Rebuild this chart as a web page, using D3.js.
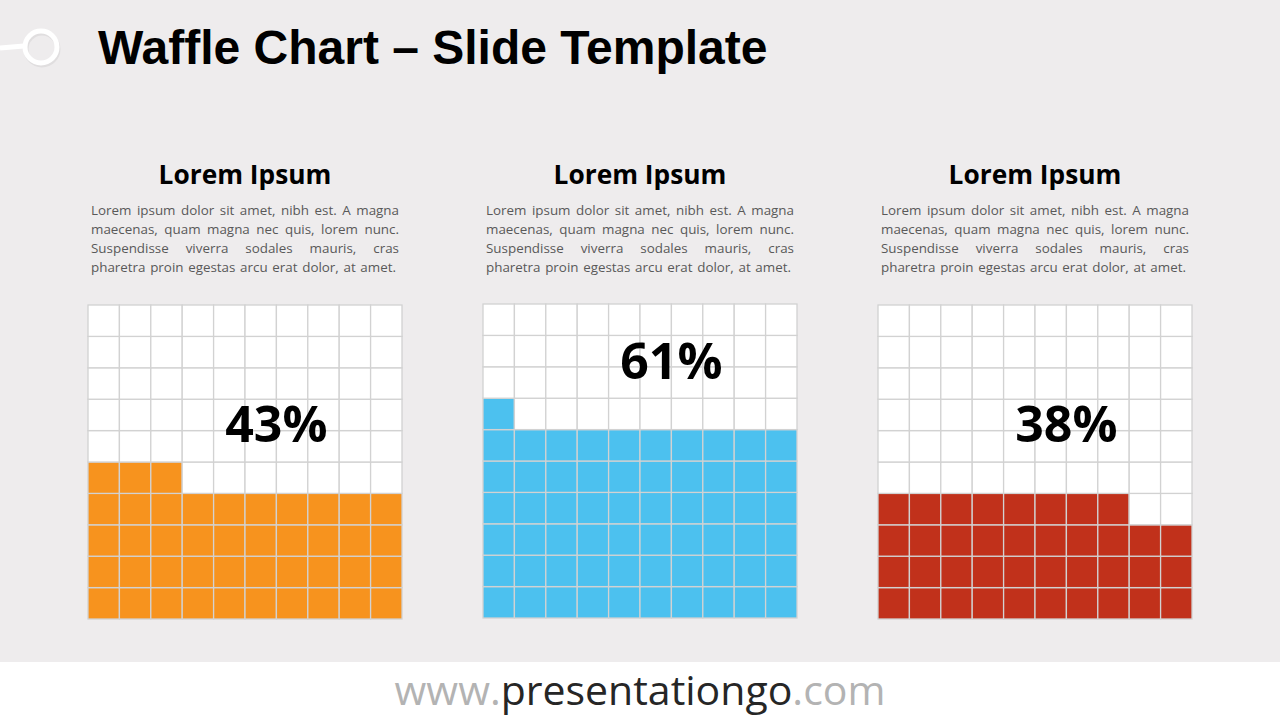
<!DOCTYPE html>
<html><head><meta charset="utf-8">
<script src="https://cdn.jsdelivr.net/npm/d3@7"></script>
<style>html,body{margin:0;padding:0;background:#fff;}svg{display:block;}</style>
</head><body>
<svg id="chart" width="1280" height="720"></svg>
<script>
// ---- data ----
const titles = ["Lorem Ipsum", "Lorem Ipsum", "Lorem Ipsum"];
const percents = [43, 61, 38];
const bodyLines = [
  "Lorem ipsum dolor sit amet, nibh est. A magna",
  "maecenas, quam magna nec quis, lorem nunc.",
  "Suspendisse viverra sodales mauris, cras",
  "pharetra proin egestas arcu erat dolor, at amet."
];
const gridCols = d3.range(10);
const gridRows = d3.range(10);

// ---- style / layout ----
const fills = ["#f7931e", "#4cc1ef", "#c1311b"];
const panelCenters = [245, 640, 1035];
const gridTops = [305, 304, 305];
const labelPos = [{dx: 0.6, y: 423}, {dx: 0.6, y: 360}, {dx: 0.6, y: 423}];
const gridSize = 314;

const svg = d3.select("#chart");
svg.append("rect").attr("width", 1280).attr("height", 662).attr("fill", "#eeeced");
svg.append("rect").attr("y", 662).attr("width", 1280).attr("height", 58).attr("fill", "#ffffff");

// logo
svg.append("line").attr("x1", 0).attr("y1", 48).attr("x2", 24).attr("y2", 46)
  .attr("stroke", "#ffffff").attr("stroke-width", 5);
svg.append("circle").attr("cx", 41).attr("cy", 48).attr("r", 16)
  .attr("fill", "none").attr("stroke", "#e0dedf").attr("stroke-width", 5)
  .attr("transform", "translate(1,1)");
svg.append("circle").attr("cx", 41).attr("cy", 47).attr("r", 16)
  .attr("fill", "none").attr("stroke", "#ffffff").attr("stroke-width", 5);

// title
svg.append("text").attr("x", 98).attr("y", 64)
  .attr("font-family", "Liberation Sans, Arial, sans-serif").attr("font-weight", "bold")
  .attr("font-size", 48).attr("fill", "#000").text("Waffle Chart \u2013 Slide Template");

const bodyFont = "'Open Sans', 'Noto Sans', sans-serif";

panelCenters.forEach((cx, k) => {
  const g = svg.append("g");
  g.append("text").attr("x", cx).attr("y", 184).attr("text-anchor", "middle")
    .attr("font-family", bodyFont).attr("font-weight", "bold").attr("font-size", 26.3)
    .attr("fill", "#000").text(titles[k]);

  // justified body text
  const left = cx - 154, right = cx + 154;
  bodyLines.forEach((line, li) => {
    const words = line.split(" ");
    const t = g.append("text").attr("y", 215 + li * 19)
      .attr("font-family", bodyFont).attr("font-size", 13.4).attr("fill", "#595959");
    const spans = words.map(w => t.append("tspan").text(w));
    const widths = spans.map(s => s.node().getComputedTextLength());
    const total = d3.sum(widths);
    const W = (li === bodyLines.length - 1) ? (right - 3 - left) : (right - left);
    const gap = (W - total) / (words.length - 1);
    let x = left;
    spans.forEach((s, i) => { s.attr("x", x); x += widths[i] + gap; });
  });

  // waffle grid
  const x0 = cx - gridSize / 2, y0 = gridTops[k];
  const xs = d3.scaleBand().domain(gridCols).range([x0, x0 + gridSize]);
  const ys = d3.scaleBand().domain(gridRows).range([y0 + gridSize, y0]); // row 0 at bottom
  const cells = d3.range(gridCols.length * gridRows.length).map(i => ({
    row: Math.floor(i / gridCols.length), col: i % gridCols.length, on: i < percents[k]
  }));
  g.selectAll("rect.cell").data(cells).join("rect").attr("class", "cell")
    .attr("x", d => xs(d.col)).attr("y", d => ys(d.row))
    .attr("width", xs.bandwidth()).attr("height", ys.bandwidth())
    .attr("fill", d => d.on ? fills[k] : "#ffffff")
    .attr("stroke", "#d2d2d2").attr("stroke-width", 1.3);

  g.append("text").attr("x", x0 + labelPos[k].dx * gridSize).attr("y", labelPos[k].y)
    .attr("text-anchor", "middle").attr("dominant-baseline", "central")
    .attr("font-family", bodyFont).attr("font-weight", "bold").attr("font-size", 50)
    .attr("fill", "#000").text(percents[k] + "%");
});

// footer
const ft = svg.append("text").attr("x", 640).attr("y", 705).attr("text-anchor", "middle")
  .attr("font-family", bodyFont).attr("font-size", 41);
ft.append("tspan").attr("fill", "#b3b3b3").text("www.");
ft.append("tspan").attr("fill", "#262626").text("presentationgo");
ft.append("tspan").attr("fill", "#b3b3b3").text(".com");
</script>
</body></html>
